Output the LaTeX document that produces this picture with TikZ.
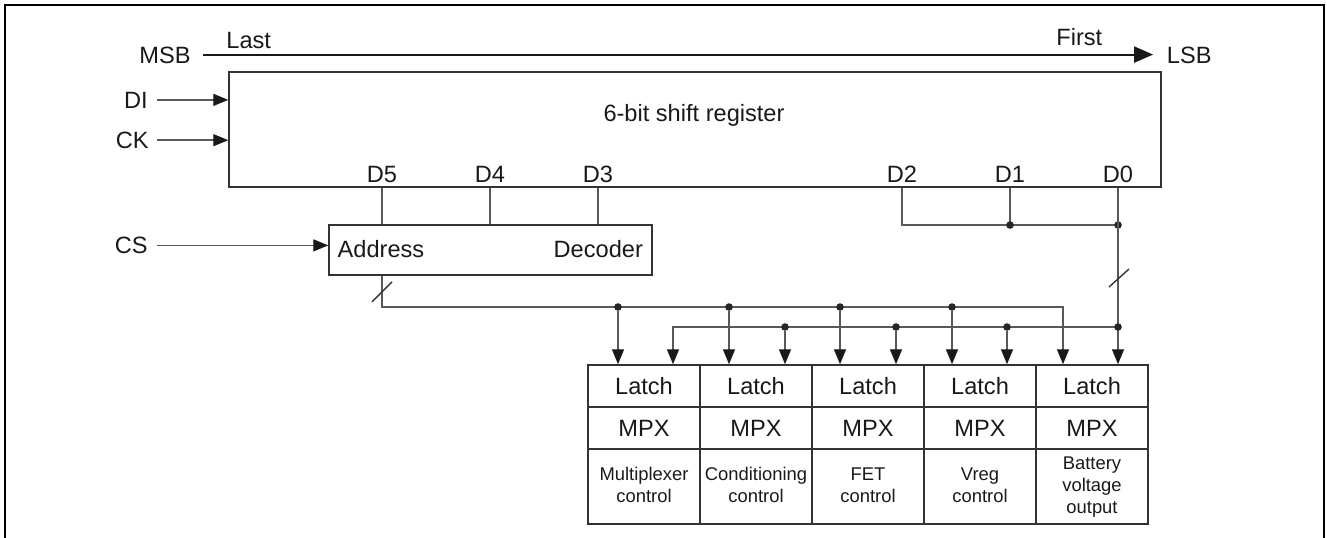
\documentclass[tikz,border=0pt]{standalone}
\usepackage{fontspec}
\setmainfont{Liberation Sans}
\usetikzlibrary{arrows.meta,fit}
\begin{document}
\begin{tikzpicture}[x=0.5pt,y=-0.5pt,
  lbl/.style={inner sep=0pt, font=\fontsize{11.8}{14}\selectfont, text=black!90},
  sml/.style={inner sep=0pt, font=\fontsize{9.2}{11}\selectfont, text=black!90},
  box/.style={draw=black!80, line width=0.75pt, inner sep=0pt},
  wire/.style={draw=black!65, line width=0.7pt},
  arr/.style={wire, -{Triangle[length=7.5pt,width=6pt,color=black!90]}},
  bigarr/.style={draw=black!90, line width=1pt, -{Triangle[length=9.5pt,width=8pt]}},
  dot/.style={circle, fill=black!85, inner sep=0pt, minimum size=3.8pt},
  frameline/.style={line width=1.3pt, line join=miter}]
\useasboundingbox (0,0) rectangle (1327,537);
% outer frame
\draw[frameline] (5,560) -- (5,5) -- (1324,5) -- (1324,560);

% MSB / LSB
\node[lbl, anchor=base east] (msb) at (191,63.3) {MSB};
\node[lbl, anchor=base west] (lsb) at (1166.5,63.3) {LSB};
\node[lbl, anchor=base west] (last) at (226,48.5) {Last};
\node[lbl, anchor=base west] (first) at (1056,45) {First};
\draw[bigarr] ([xshift=6pt,yshift=0.3pt]msb.east) -- ([xshift=-6.7pt,yshift=0.3pt]lsb.west);

% shift register
\node[box, fit={(229,72) (1161,187)}] (reg) {};
\node[lbl, anchor=base] (regt) at (694,121.5) {6-bit shift register};
\node[lbl, anchor=base east] (di) at (148,108) {DI};
\node[lbl, anchor=base east] (ck) at (149,148.3) {CK};
\draw[arr] ([xshift=4.5pt]di.east) -- (di.east -| reg.west);
\draw[arr] ([xshift=4pt]ck.east) -- (ck.east -| reg.west);
\node[lbl, anchor=base] (d5) at (382,182) {D5};
\node[lbl, anchor=base] (d4) at (490,182) {D4};
\node[lbl, anchor=base] (d3) at (598,182) {D3};
\node[lbl, anchor=base] (d2) at (902,182) {D2};
\node[lbl, anchor=base] (d1) at (1010,182) {D1};
\node[lbl, anchor=base] (d0) at (1118,182) {D0};

% address decoder
\node[box, fit={(329,225) (652,275)}] (dec) {};
\node[lbl, anchor=base west] (addr) at (337.3,257.3) {Address};
\node[lbl, anchor=base east] (decod) at (643.3,257.3) {Decoder};
\node[lbl, anchor=base east] (cs) at (148,253.5) {CS};
\draw[arr] ([xshift=4.5pt]cs.east) -- (cs.east -| dec.west);
\draw[wire] (reg.south -| d5) -- (dec.north -| d5);
\draw[wire] (reg.south -| d4) -- (dec.north -| d4);
\draw[wire] (reg.south -| d3) -- (dec.north -| d3);

% latch / mpx / function cells
\foreach \i in {1,...,5} {
  \pgfmathsetmacro\xl{588+112*(\i-1)}
  \node[box, fit={(\xl,365) (\xl+112,407)}] (lat\i) {};
  \node[box, fit={(\xl,407) (\xl+112,449)}] (mpx\i) {};
  \node[box, fit={(\xl,449) (\xl+112,524)}] (fn\i) {};
  \node[lbl, anchor=base] (latt\i) at (\xl+56,394) {Latch};
  \node[lbl, anchor=base] (mpxt\i) at (\xl+56,436.7) {MPX};
}
\node[sml, anchor=base] (f1a) at (644,480) {Multiplexer};
\node[sml, anchor=base] (f1b) at (644,502) {control};
\node[sml, anchor=base] (f2a) at (756,480) {Conditioning};
\node[sml, anchor=base] (f2b) at (756,502) {control};
\node[sml, anchor=base] (f3a) at (868,480) {FET};
\node[sml, anchor=base] (f3b) at (868,502) {control};
\node[sml, anchor=base] (f4a) at (980,480) {Vreg};
\node[sml, anchor=base] (f4b) at (980,502) {control};
\node[sml, anchor=base] (f5a) at (1092,469) {Battery};
\node[sml, anchor=base] (f5b) at (1092,491) {voltage};
\node[sml, anchor=base] (f5c) at (1092,513) {output};

% D2/D1/D0 net
\coordinate (j1) at (d1 |- 0,225);
\coordinate (j0) at (d0 |- 0,225);
\draw[wire] (reg.south -| d2) |- (j0);
\draw[wire] (reg.south -| d1) -- (j1);
\node[dot] (dj1) at (j1) {};
\node[dot] (dj0) at (j0) {};
% D0 down to latch 5 (second bus)
\coordinate (b2r) at (d0 |- 0,327);
\coordinate (b2l) at (673,327);
\draw[arr] (reg.south -| d0) -- (lat5.north -| d0);
\draw[arr] (b2r) -- (b2l) -- (lat1.north -| b2l);
\node[dot] (db2r) at (b2r) {};
\foreach \x/\n in {785/2, 896/3, 1007/4} {
  \node[dot] (u\n) at (\x,327) {};
  \draw[arr] (u\n) -- (lat\n.north -| u\n);
}
\draw[wire, black!80] (d0 |- 0,287) ++(-9,0) -- ++(20,-18);

% decoder output bus
\coordinate (b1r) at (1063,307);
\draw[arr] (dec.south -| d5) |- (b1r) -- (lat5.north -| b1r);
\foreach \x/\n in {618/1, 729/2, 840/3, 952/4} {
  \node[dot] (t\n) at (\x,307) {};
  \draw[arr] (t\n) -- (lat\n.north -| t\n);
}
\draw[wire, black!80] (dec.south -| d5) ++(-10,26) -- ++(20,-20);
\end{tikzpicture}
\end{document}
